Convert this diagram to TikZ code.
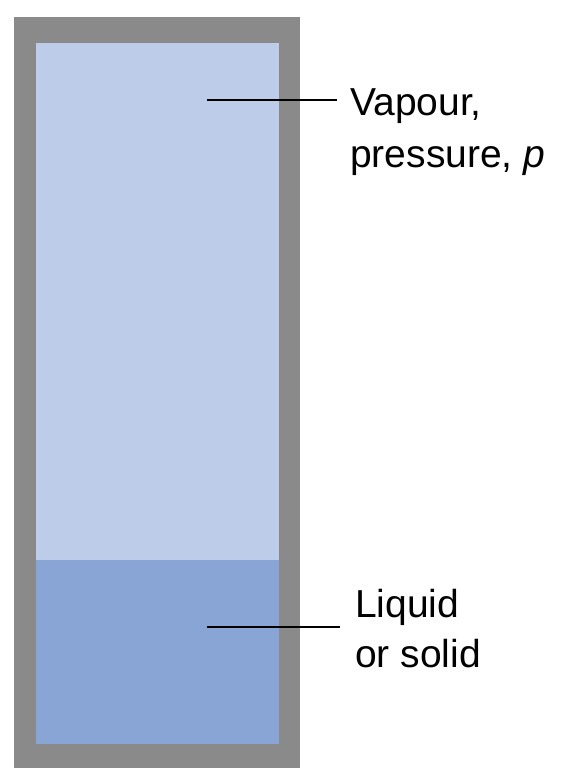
\documentclass[tikz,border=0pt]{standalone}
\usepackage{fontspec}
\setmainfont{Liberation Sans}
\definecolor{vapourblue}{RGB}{189,204,232}
\definecolor{liquidblue}{RGB}{136,165,214}
\definecolor{wallgray}{RGB}{138,138,138}
\begin{document}
\begin{tikzpicture}[x=1pt,y=-1pt,
  lbl/.style={anchor=base west, inner sep=0pt, font=\fontsize{39}{47}\selectfont},
  lead/.style={line width=2pt, black}]
\useasboundingbox (0,0) rectangle (571,784);
% container wall
\fill[wallgray] (14,17) rectangle (300,768);
% vapour and liquid
\fill[vapourblue] (36,43) rectangle (279,560);
\fill[liquidblue] (36,560) rectangle (279,744);
% labels
\node[lbl] (v1) at (350,115) {Vapour,};
\node[lbl] (v2) at (350,167) {pressure, \textit{p}};
\node[lbl] (l1) at (355,617) {Liquid};
\node[lbl] (l2) at (355,667) {or solid};
% leader lines
\coordinate (va) at (207,100);
\coordinate (vb) at (337,100);
\coordinate (la) at (207,627);
\coordinate (lb) at (340,627);
\draw[lead] (va) -- (vb);
\draw[lead] (la) -- (lb);
\end{tikzpicture}
\end{document}
